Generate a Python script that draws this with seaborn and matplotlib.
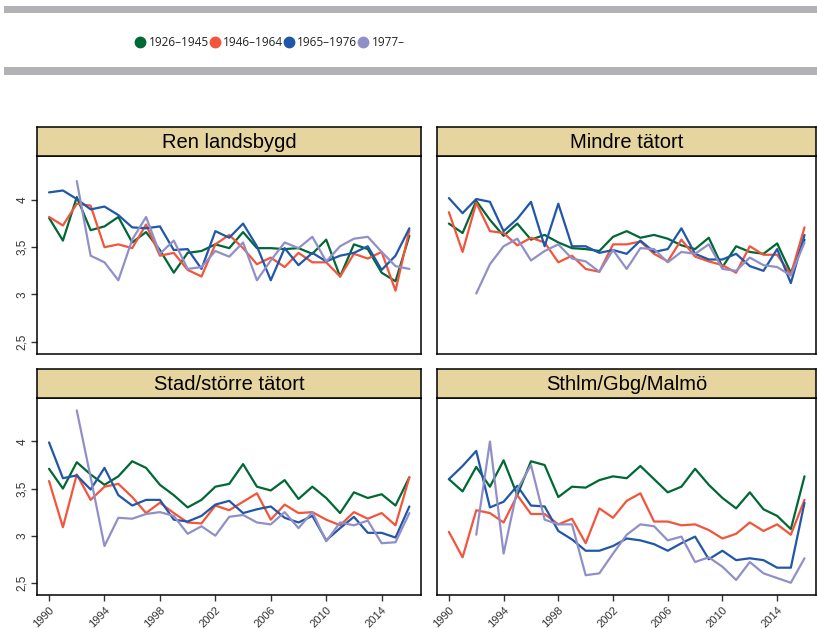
import numpy as np
import pandas as pd
import matplotlib
matplotlib.use("Agg")
import matplotlib.pyplot as plt
from matplotlib.lines import Line2D
from matplotlib.patches import Rectangle
from matplotlib.transforms import ScaledTranslation
import seaborn as sns

years = list(range(1990, 2017))
cohorts = ["1926–1945", "1946–1964", "1965–1976", "1977–"]
colors = ["#006834", "#f2553b", "#2157a8", "#918fc8"]
panels = ["Ren landsbygd", "Mindre tätort", "Stad/större tätort", "Sthlm/Gbg/Malmö"]
nan = np.nan

ren_1926 = [3.81, 3.57, 4.03, 3.68, 3.72, 3.82, 3.55, 3.66, 3.47, 3.23, 3.44, 3.46, 3.53, 3.49,
            3.66, 3.49, 3.49, 3.48, 3.49, 3.43, 3.58, 3.19, 3.53, 3.48, 3.23, 3.14, 3.62]
ren_1946 = [3.82, 3.73, 3.96, 3.94, 3.50, 3.53, 3.49, 3.74, 3.41, 3.44, 3.26, 3.19, 3.53, 3.63,
            3.49, 3.32, 3.39, 3.29, 3.44, 3.34, 3.34, 3.19, 3.43, 3.38, 3.45, 3.04, 3.68]
ren_1965 = [4.08, 4.10, 4.01, 3.90, 3.93, 3.84, 3.71, 3.70, 3.72, 3.47, 3.48, 3.27, 3.67, 3.60,
            3.75, 3.51, 3.15, 3.49, 3.31, 3.44, 3.35, 3.41, 3.44, 3.51, 3.26, 3.41, 3.70]
ren_1977 = [nan, nan, 4.20, 3.41, 3.34, 3.15, 3.58, 3.82, 3.43, 3.57, 3.27, 3.29, 3.46, 3.40,
            3.55, 3.15, 3.36, 3.55, 3.49, 3.61, 3.35, 3.51, 3.59, 3.61, 3.45, 3.30, 3.27]

min_1926 = [3.75, 3.65, 3.99, 3.79, 3.62, 3.75, 3.58, 3.63, 3.55, 3.49, 3.48, 3.46, 3.61, 3.67,
            3.60, 3.63, 3.59, 3.52, 3.48, 3.60, 3.29, 3.51, 3.45, 3.43, 3.54, 3.23, 3.58]
min_1946 = [3.87, 3.45, 3.97, 3.67, 3.65, 3.52, 3.60, 3.55, 3.34, 3.41, 3.27, 3.24, 3.53, 3.53,
            3.56, 3.43, 3.35, 3.58, 3.40, 3.35, 3.31, 3.23, 3.51, 3.42, 3.42, 3.21, 3.71]
min_1965 = [4.02, 3.86, 4.01, 3.98, 3.67, 3.80, 3.98, 3.51, 3.96, 3.51, 3.51, 3.44, 3.47, 3.43,
            3.57, 3.45, 3.48, 3.70, 3.43, 3.37, 3.37, 3.43, 3.30, 3.25, 3.48, 3.12, 3.63]
min_1977 = [nan, nan, 3.01, 3.32, 3.51, 3.59, 3.36, 3.46, 3.53, 3.38, 3.35, 3.24, 3.47, 3.27,
            3.49, 3.48, 3.34, 3.45, 3.43, 3.53, 3.27, 3.25, 3.39, 3.31, 3.29, 3.20, 3.55]

stad_1926 = [3.71, 3.50, 3.78, 3.65, 3.54, 3.63, 3.79, 3.72, 3.54, 3.43, 3.30, 3.38, 3.52, 3.55,
             3.76, 3.52, 3.48, 3.59, 3.39, 3.52, 3.40, 3.24, 3.46, 3.40, 3.44, 3.32, 3.62]
stad_1946 = [3.58, 3.09, 3.65, 3.38, 3.52, 3.55, 3.41, 3.24, 3.35, 3.24, 3.14, 3.13, 3.32, 3.27,
             3.36, 3.45, 3.17, 3.33, 3.24, 3.25, 3.17, 3.11, 3.25, 3.18, 3.24, 3.11, 3.62]
stad_1965 = [3.99, 3.61, 3.64, 3.49, 3.72, 3.43, 3.32, 3.38, 3.38, 3.17, 3.15, 3.21, 3.33, 3.37,
             3.24, 3.28, 3.31, 3.19, 3.14, 3.21, 2.95, 3.08, 3.20, 3.03, 3.03, 2.98, 3.31]
stad_1977 = [nan, nan, 4.33, 3.62, 2.89, 3.19, 3.18, 3.23, 3.25, 3.21, 3.02, 3.10, 3.00, 3.20,
             3.22, 3.14, 3.12, 3.25, 3.08, 3.25, 2.94, 3.14, 3.11, 3.16, 2.92, 2.93, 3.24]

sthlm_1926 = [3.60, 3.47, 3.73, 3.52, 3.80, 3.43, 3.79, 3.75, 3.41, 3.52, 3.51, 3.59, 3.63, 3.61,
              3.74, 3.60, 3.46, 3.52, 3.71, 3.54, 3.40, 3.29, 3.46, 3.28, 3.21, 3.07, 3.63]
sthlm_1946 = [3.04, 2.77, 3.27, 3.24, 3.14, 3.43, 3.23, 3.23, 3.12, 3.18, 2.92, 3.29, 3.19, 3.37,
              3.45, 3.15, 3.15, 3.11, 3.12, 3.06, 2.97, 3.02, 3.14, 3.05, 3.12, 3.01, 3.38]
sthlm_1965 = [3.60, 3.74, 3.90, 3.30, 3.36, 3.53, 3.32, 3.31, 3.05, 2.96, 2.84, 2.84, 2.89, 2.97,
              2.95, 2.91, 2.84, 2.92, 2.99, 2.75, 2.84, 2.74, 2.76, 2.74, 2.66, 2.66, 3.35]
sthlm_1977 = [nan, nan, 3.01, 4.00, 2.81, 3.49, 3.75, 3.17, 3.12, 3.12, 2.58, 2.60, 2.81, 3.01,
              3.12, 3.10, 2.95, 2.99, 2.72, 2.77, 2.67, 2.53, 2.72, 2.60, 2.55, 2.50, 2.76]

panel_series = {
    "Ren landsbygd": [ren_1926, ren_1946, ren_1965, ren_1977],
    "Mindre tätort": [min_1926, min_1946, min_1965, min_1977],
    "Stad/större tätort": [stad_1926, stad_1946, stad_1965, stad_1977],
    "Sthlm/Gbg/Malmö": [sthlm_1926, sthlm_1946, sthlm_1965, sthlm_1977],
}
y_ticks = [2.5, 3, 3.5, 4]
y_ticklabels = ["2,5", "3", "3,5", "4"]
x_ticks = list(range(1990, 2015, 4))

rows = []
for p in panels:
    for c, vals in zip(cohorts, panel_series[p]):
        for y, v in zip(years, vals):
            rows.append({"panel": p, "cohort": c, "year": y, "value": v})
df = pd.DataFrame(rows).dropna()

sns.set_theme(style="white")
plt.rcParams["font.family"] = ["Liberation Sans", "DejaVu Sans"]

W, H = 817, 629
fig = plt.figure(figsize=(W / 100, H / 100), dpi=100)

def fx(px):
    return px / W

def fy(py):
    return 1 - py / H

# grey bars around the legend
for y0, y1 in [(6, 13.3), (66.7, 75)]:
    fig.patches.append(Rectangle((fx(4), fy(y1)), 1 - fx(4), (y1 - y0) / H,
                                 transform=fig.transFigure, facecolor="#b2b2b6",
                                 edgecolor="none", zorder=0))

handles = [Line2D([], [], marker="o", linestyle="none", markersize=7.5,
                  markerfacecolor=col, markeredgecolor=col) for col in colors]
fig.legend(handles, cohorts, loc="center", bbox_to_anchor=(fx(270), fy(42.5)), ncol=4,
           frameon=False, handletextpad=0.3, columnspacing=0.1, handlelength=0.8,
           prop={"family": "Open Sans", "size": 8.5},
           labelcolor="#222222")

# panel geometry (pixels)
boxes = {
    "Ren landsbygd": (37, 421, 156, 354),
    "Mindre tätort": (437, 816, 156, 354),
    "Stad/större tätort": (37, 421, 397.7, 595),
    "Sthlm/Gbg/Malmö": (437, 816, 397.7, 595),
}
strip_h = 28.5

for idx, p in enumerate(panels):
    x0, x1, y0, y1 = boxes[p]
    ax = fig.add_axes([fx(x0), fy(y1), (x1 - x0) / W, (y1 - y0) / H])
    sub = df[df["panel"] == p]
    sns.lineplot(data=sub, x="year", y="value", hue="cohort", hue_order=cohorts,
                 palette=colors, linewidth=1.6, ax=ax, legend=False, estimator=None)
    ax.set_xlim(1989.13, 2016.84)
    ax.set_ylim(2.37, 4.465)
    ax.set_xlabel("")
    ax.set_ylabel("")
    for s in ax.spines.values():
        s.set_color("black")
        s.set_linewidth(1.1)
        s.set_visible(True)
    ax.set_facecolor("white")
    left = idx % 2 == 0
    bottom = idx >= 2
    ax.set_yticks(y_ticks)
    ax.set_xticks(x_ticks)
    if left:
        ax.set_yticklabels(y_ticklabels, rotation=90, ha="center", va="center",
                           fontsize=8.5, color="#333333")
    else:
        ax.set_yticklabels([])
    if bottom:
        labs = ax.set_xticklabels([str(v) for v in x_ticks], rotation=45,
                                  ha="right", va="top", rotation_mode="anchor",
                                  fontsize=8, color="#333333")
        off = ScaledTranslation(5 / 72, 0, fig.dpi_scale_trans)
        for t in labs:
            t.set_transform(t.get_transform() + off)
    else:
        ax.set_xticklabels([])
    ax.tick_params(axis="y", left=left, length=4 if left else 0, width=1,
                   color="#333333", pad=6.5)
    ax.tick_params(axis="x", bottom=bottom, length=4 if bottom else 0, width=1,
                   color="#333333", pad=3)

    sax = fig.add_axes([fx(x0), fy(y0), (x1 - x0) / W, strip_h / H])
    sax.set_facecolor("#e6d59f")
    sax.set_xticks([])
    sax.set_yticks([])
    for s in sax.spines.values():
        s.set_color("black")
        s.set_linewidth(1.1)
        s.set_visible(True)
    sax.text(0.5, 0.47, p, ha="center", va="center", fontsize=14.5, color="black",
             transform=sax.transAxes)

fig.savefig("out.png", dpi=100)
